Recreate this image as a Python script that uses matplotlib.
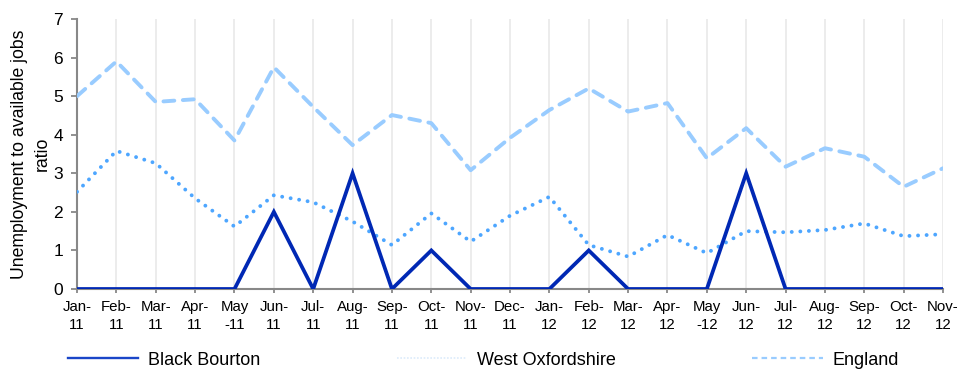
import matplotlib.pyplot as plt
from matplotlib.lines import Line2D

plt.rcParams['font.family'] = ['Liberation Sans', 'DejaVu Sans']

months = ["Jan-\n11", "Feb-\n11", "Mar-\n11", "Apr-\n11", "May\n-11", "Jun-\n11",
          "Jul-\n11", "Aug-\n11", "Sep-\n11", "Oct-\n11", "Nov-\n11", "Dec-\n11",
          "Jan-\n12", "Feb-\n12", "Mar-\n12", "Apr-\n12", "May\n-12", "Jun-\n12",
          "Jul-\n12", "Aug-\n12", "Sep-\n12", "Oct-\n12", "Nov-\n12"]

black_bourton = [0, 0, 0, 0, 0, 2, 0, 3, 0, 1, 0, 0,
                 0, 1, 0, 0, 0, 3, 0, 0, 0, 0, 0]
west_oxfordshire = [2.52, 3.58, 3.26, 2.35, 1.62, 2.43, 2.25, 1.75, 1.14, 1.96, 1.23, 1.9,
                    2.39, 1.14, 0.84, 1.4, 0.93, 1.5, 1.47, 1.53, 1.7, 1.37, 1.42]
england = [5.0, 5.9, 4.85, 4.92, 3.85, 5.75, 4.72, 3.73, 4.51, 4.3, 3.08, 3.92,
           4.64, 5.2, 4.6, 4.82, 3.39, 4.17, 3.17, 3.65, 3.43, 2.65, 3.13]

x = list(range(len(months)))

fig = plt.figure(figsize=(9.57, 3.69), dpi=100)
ax = fig.add_axes([0.0805, 0.2168, 0.9049, 0.7317])

ax.plot(x, england, color="#99CCFF", lw=2.8, linestyle=(0, (2.8, 2.2)),
        dash_capstyle="round", zorder=3)
ax.plot(x, west_oxfordshire, color="#4DA6FF", lw=2.8, linestyle=(0, (0.01, 2.2)),
        dash_capstyle="round", zorder=3)
ax.plot(x, black_bourton, color="#0028B4", lw=2.7, solid_joinstyle="miter", zorder=4)

ax.set_xlim(0, len(months) - 1)
ax.set_ylim(0, 7)
ax.set_xticks(x)
ax.set_xticklabels(months, fontsize=10.8, linespacing=1.35)
ax.set_yticks(range(8))
ax.tick_params(axis="y", labelsize=12.5, length=4, width=1.3, color="#888888", pad=6)
ax.tick_params(axis="x", length=3, width=1.3, color="#888888", pad=5)

ax.grid(axis="x", color="#EBEBEB", lw=1.3)
ax.set_axisbelow(True)
for side in ("top", "right"):
    ax.spines[side].set_visible(False)
for side in ("left", "bottom"):
    ax.spines[side].set_color("#888888")
    ax.spines[side].set_linewidth(1.5)

ax.set_ylabel("Unemployment to available jobs\nratio", fontsize=12.7, labelpad=2,
              linespacing=1.4)

handles = [
    Line2D([], [], color="#1A46C8", lw=1.7),
    Line2D([], [], color="#DCEBFB", lw=1.2, linestyle=(0, (1, 1))),
    Line2D([], [], color="#99CCFF", lw=1.6, linestyle=(0, (2.5, 1.8))),
]
fig.legend(handles, ["Black Bourton", "West Oxfordshire", "England"],
           loc="center left", bbox_to_anchor=(68 / 957, 0.024), ncol=3,
           frameon=False, fontsize=13, handlelength=3.9, handletextpad=0.55,
           columnspacing=7.55, borderpad=0, borderaxespad=0)

fig.savefig("out.png", dpi=100)
